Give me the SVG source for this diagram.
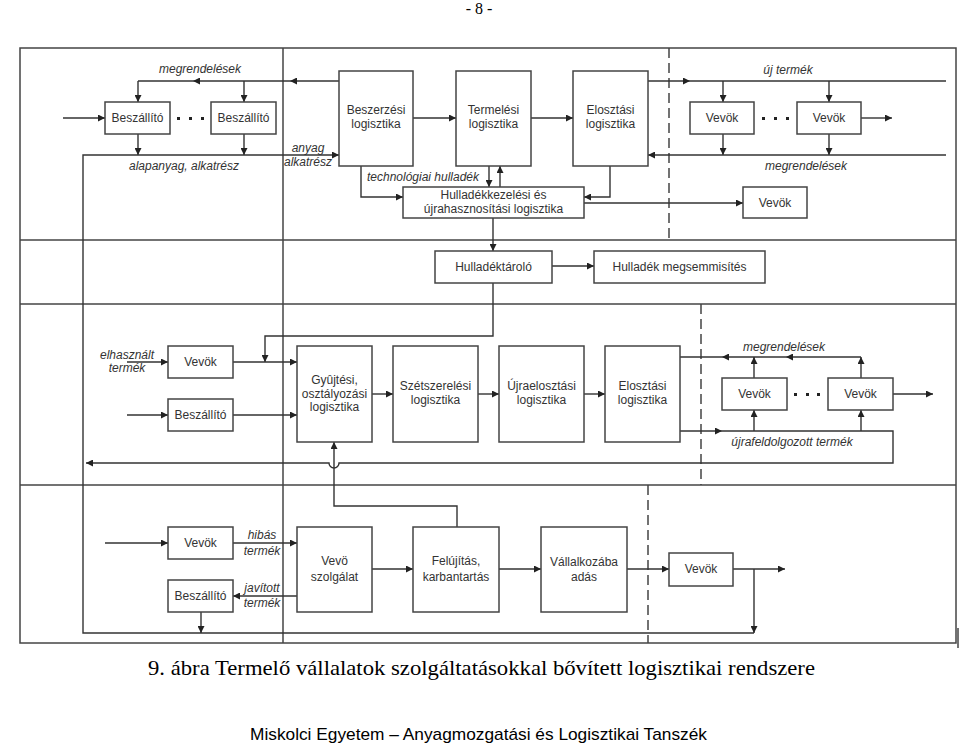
<svg xmlns="http://www.w3.org/2000/svg" width="960" height="744" viewBox="0 0 960 744">
<style>
.fr{fill:none;stroke:#444;stroke-width:1.5}
.dash{fill:none;stroke:#444;stroke-width:1.5;stroke-dasharray:10,5}
.bx{fill:#fff;stroke:#444;stroke-width:1.5}
.c{fill:none;stroke:#333;stroke-width:1.4;marker-end:url(#a)}
.l{fill:none;stroke:#333;stroke-width:1.4}
.t{font-family:"Liberation Sans",Arial,sans-serif;font-size:12px;fill:#333;text-anchor:middle}
.i{font-family:"Liberation Sans",Arial,sans-serif;font-size:12px;fill:#333;font-style:italic;text-anchor:middle}
.dot{fill:#222}
</style>
<defs>
<marker id="a" viewBox="0 0 10 10" refX="10" refY="5" markerWidth="10" markerHeight="7" markerUnits="userSpaceOnUse" orient="auto"><path d="M0,0 L10,5 L0,10z" fill="#222"/></marker>
</defs>
<rect width="960" height="744" fill="#fff"/>
<text x="479" y="14" font-family="'Liberation Serif','Times New Roman',serif" font-size="16" text-anchor="middle" fill="#000">- 8 -</text>

<g id="frame">
<rect class="fr" x="20" y="48" width="936" height="595"/>
<line class="fr" x1="283" y1="48" x2="283" y2="643"/>
<line class="fr" x1="20" y1="240" x2="956" y2="240"/>
<line class="fr" x1="20" y1="304" x2="956" y2="304"/>
<line class="fr" x1="20" y1="485" x2="956" y2="485"/>
<line class="dash" x1="669" y1="48" x2="669" y2="240"/>
<line class="dash" x1="701" y1="304" x2="701" y2="485"/>
<line class="dash" x1="648" y1="485" x2="648" y2="643"/>
<line class="fr" x1="958" y1="628" x2="958" y2="648"/>
</g>

<g id="connectors">
<path class="c" d="M339,81 H290"/>
<path class="c" d="M290,81 H193"/>
<path class="l" d="M193,81 H138"/>
<path class="c" d="M138,81 V102"/>
<path class="c" d="M244,81 V102"/>
<path class="c" d="M63,118 H105"/>
<path class="c" d="M138,134 V155"/>
<path class="c" d="M244,134 V155"/>
<path class="c" d="M754,633 H83 V155 H339"/>
<path class="c" d="M413,118 H456"/>
<path class="c" d="M531,118 H573"/>
<path class="c" d="M361,166 V197 H403"/>
<path class="c" d="M489,166 V187"/>
<path class="c" d="M500,187 V166"/>
<path class="c" d="M610,166 V197 H584"/>
<path class="c" d="M584,203 H743"/>
<path class="c" d="M493,218 V251"/>
<path class="c" d="M648,81 H690"/>
<path class="l" d="M690,81 H946"/>
<path class="c" d="M723,81 V102"/>
<path class="c" d="M829,81 V102"/>
<path class="c" d="M861,118 H892"/>
<path class="c" d="M723,134 V155"/>
<path class="c" d="M829,134 V155"/>
<path class="c" d="M946,155 H648"/>
<path class="c" d="M552,266 H594"/>
<path class="c" d="M493,283 V336 H265 V362"/>
<path class="c" d="M127,362 H168"/>
<path class="c" d="M233,362 H297"/>
<path class="c" d="M127,415 H168"/>
<path class="c" d="M233,415 H297"/>
<path class="c" d="M372,394 H393"/>
<path class="c" d="M478,394 H499"/>
<path class="c" d="M584,394 H605"/>
<path class="c" d="M861,357 H786"/>
<path class="c" d="M786,357 H722"/>
<path class="l" d="M722,357 H680"/>
<path class="c" d="M754,378 V357"/>
<path class="c" d="M861,378 V357"/>
<path class="c" d="M893,394 H933"/>
<path class="c" d="M680,431 H722"/>
<path class="c" d="M722,431 H893 V463 H339 A5,5 0 0 1 329,463 H86"/>
<path class="c" d="M754,431 V410"/>
<path class="c" d="M861,431 V410"/>
<path class="c" d="M457,527 V506 H334 V442"/>
<path class="c" d="M105,543 H168"/>
<path class="c" d="M233,543 H297"/>
<path class="c" d="M297,596 H233"/>
<path class="c" d="M201,612 V633"/>
<path class="c" d="M372,569 H413"/>
<path class="c" d="M499,569 H541"/>
<path class="c" d="M627,569 H669"/>
<path class="c" d="M733,569 H785"/>
<path class="c" d="M754,569 V633"/>
</g>

<g id="labels">
<text class="i" x="200" y="73">megrendelések</text>
<text class="i" x="184" y="170">alapanyag, alkatrész</text>
<text class="i" x="308" y="152">anyag</text>
<text class="i" x="308" y="166">alkatrész</text>
<text class="i" x="423" y="181">technológiai hulladék</text>
<text class="i" x="788" y="74">új termék</text>
<text class="i" x="806" y="170">megrendelések</text>
<text class="i" x="127" y="359">elhasznált</text>
<text class="i" x="127" y="372">termék</text>
<text class="i" x="784" y="351">megrendelések</text>
<text class="i" x="792" y="446">újrafeldolgozott termék</text>
<text class="i" x="262" y="539">hibás</text>
<text class="i" x="262" y="555">termék</text>
<text class="i" x="262" y="592">javított</text>
<text class="i" x="262" y="607">termék</text>
</g>

<g id="dots">
<rect class="dot" x="177" y="117" width="3" height="3"/>
<rect class="dot" x="189" y="117" width="3" height="3"/>
<rect class="dot" x="201" y="117" width="3" height="3"/>
<rect class="dot" x="762" y="117" width="3" height="3"/>
<rect class="dot" x="774" y="117" width="3" height="3"/>
<rect class="dot" x="786" y="117" width="3" height="3"/>
<rect class="dot" x="794" y="393" width="3" height="3"/>
<rect class="dot" x="806" y="393" width="3" height="3"/>
<rect class="dot" x="817" y="393" width="3" height="3"/>
</g>

<g id="beszallito1"><rect class="bx" x="105" y="102" width="65" height="32"/><text class="t" x="137.5" y="122">Beszállító</text></g>
<g id="beszallito2"><rect class="bx" x="211" y="102" width="65" height="32"/><text class="t" x="243.5" y="122">Beszállító</text></g>
<g id="beszerzesi"><rect class="bx" x="339" y="71" width="74" height="95"/><text class="t" x="376" y="114">Beszerzési</text><text class="t" x="376" y="128">logisztika</text></g>
<g id="termelesi"><rect class="bx" x="456" y="71" width="75" height="95"/><text class="t" x="493.5" y="114">Termelési</text><text class="t" x="493.5" y="128">logisztika</text></g>
<g id="elosztasi1"><rect class="bx" x="573" y="71" width="75" height="95"/><text class="t" x="610.5" y="114">Elosztási</text><text class="t" x="610.5" y="128">logisztika</text></g>
<g id="vevok1"><rect class="bx" x="690" y="102" width="64" height="32"/><text class="t" x="722" y="122">Vevök</text></g>
<g id="vevok2"><rect class="bx" x="797" y="102" width="64" height="32"/><text class="t" x="829" y="122">Vevök</text></g>
<g id="hulladekkezelesi"><rect class="bx" x="403" y="187" width="181" height="31"/><text class="t" x="493.5" y="199">Hulladékkezelési és</text><text class="t" x="493.5" y="213">újrahasznosítási logisztika</text></g>
<g id="vevok3"><rect class="bx" x="743" y="187" width="64" height="31"/><text class="t" x="775" y="207">Vevök</text></g>
<g id="hulladektarolo"><rect class="bx" x="435" y="251" width="117" height="32"/><text class="t" x="493.5" y="271">Hulladéktároló</text></g>
<g id="megsemmisites"><rect class="bx" x="594" y="251" width="171" height="32"/><text class="t" x="679.5" y="271">Hulladék megsemmisítés</text></g>
<g id="vevok4"><rect class="bx" x="168" y="346" width="65" height="32"/><text class="t" x="200.5" y="366">Vevök</text></g>
<g id="beszallito3"><rect class="bx" x="168" y="399" width="65" height="32"/><text class="t" x="200.5" y="419">Beszállító</text></g>
<g id="gyujtesi"><rect class="bx" x="297" y="346" width="75" height="96"/><text class="t" x="334.5" y="384">Gyûjtési,</text><text class="t" x="334.5" y="398">osztályozási</text><text class="t" x="334.5" y="411">logisztika</text></g>
<g id="szetszerelesi"><rect class="bx" x="393" y="346" width="85" height="96"/><text class="t" x="435.5" y="390">Szétszerelési</text><text class="t" x="435.5" y="404">logisztika</text></g>
<g id="ujraelosztasi"><rect class="bx" x="499" y="346" width="85" height="96"/><text class="t" x="541.5" y="390">Újraelosztási</text><text class="t" x="541.5" y="404">logisztika</text></g>
<g id="elosztasi2"><rect class="bx" x="605" y="346" width="75" height="96"/><text class="t" x="642.5" y="390">Elosztási</text><text class="t" x="642.5" y="404">logisztika</text></g>
<g id="vevok5"><rect class="bx" x="722" y="378" width="65" height="32"/><text class="t" x="754.5" y="398">Vevök</text></g>
<g id="vevok6"><rect class="bx" x="828" y="378" width="65" height="32"/><text class="t" x="860.5" y="398">Vevök</text></g>
<g id="vevok7"><rect class="bx" x="168" y="527" width="65" height="32"/><text class="t" x="200.5" y="547">Vevök</text></g>
<g id="beszallito4"><rect class="bx" x="168" y="580" width="65" height="32"/><text class="t" x="200.5" y="600">Beszállító</text></g>
<g id="vevoszolgalat"><rect class="bx" x="297" y="527" width="75" height="85"/><text class="t" x="334.5" y="565">Vevö</text><text class="t" x="334.5" y="581">szolgálat</text></g>
<g id="felujitas"><rect class="bx" x="413" y="527" width="86" height="85"/><text class="t" x="456" y="565">Felújítás,</text><text class="t" x="456" y="581">karbantartás</text></g>
<g id="vallalkozaba"><rect class="bx" x="541" y="527" width="86" height="85"/><text class="t" x="584" y="566">Vállalkozába</text><text class="t" x="584" y="581">adás</text></g>
<g id="vevok8"><rect class="bx" x="669" y="553" width="64" height="33"/><text class="t" x="701" y="573">Vevök</text></g>

<text x="148" y="675" font-family="'Liberation Serif','Times New Roman',serif" font-size="21" fill="#000" textLength="667" lengthAdjust="spacingAndGlyphs">9. ábra Termelő vállalatok szolgáltatásokkal bővített logisztikai rendszere</text>
<text x="250" y="740" font-family="'Liberation Sans',Arial,sans-serif" font-size="17" fill="#000" textLength="457" lengthAdjust="spacingAndGlyphs">Miskolci Egyetem – Anyagmozgatási és Logisztikai Tanszék</text>
</svg>
